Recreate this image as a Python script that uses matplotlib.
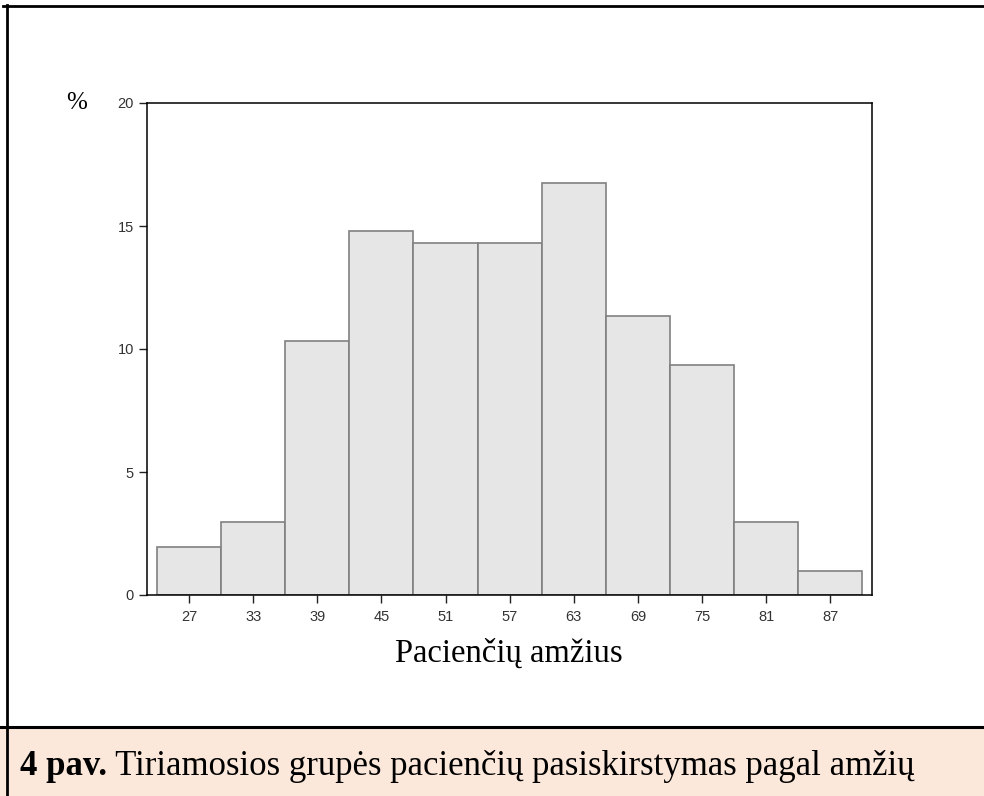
import matplotlib
matplotlib.use("Agg")
import matplotlib.pyplot as plt
from matplotlib.patches import Rectangle
from matplotlib.lines import Line2D

# Data
bin_starts = [24, 30, 36, 42, 48, 54, 60, 66, 72, 78, 84]
bin_width = 6
percent = [1.97, 2.96, 10.34, 14.78, 14.29, 14.29, 16.75, 11.33, 9.36, 2.96, 0.99]
xticks = [27, 33, 39, 45, 51, 57, 63, 69, 75, 81, 87]
yticks = [0, 5, 10, 15, 20]
xlabel = "Pacienčių amžius"
ylabel = "%"
caption_bold = "4 pav."
caption_text = " Tiriamosios grupės pacienčių pasiskirstymas pagal amžių"

W, H = 984, 796
fig = plt.figure(figsize=(W / 100, H / 100), dpi=100)
fig.patch.set_facecolor("white")

# caption band
band_top = (H - 727) / H
fig.add_artist(Rectangle((0, 0), 1, band_top, transform=fig.transFigure,
                         facecolor="#fce8da", edgecolor="none", zorder=0))
fig.add_artist(Line2D([0, 1], [band_top, band_top], transform=fig.transFigure,
                      color="black", lw=2.2))
fig.add_artist(Line2D([0.0035, 1], [1 - 6 / H, 1 - 6 / H], transform=fig.transFigure,
                      color="black", lw=2.0))
fig.add_artist(Line2D([6.5 / W, 6.5 / W], [0, 1 - 5 / H], transform=fig.transFigure,
                      color="black", lw=2.0))

ax = fig.add_axes([147 / W, 1 - 595 / H, (872 - 147) / W, (595 - 103) / H])
ax.bar(bin_starts, percent, width=bin_width, align="edge",
       facecolor="#e6e6e6", edgecolor="#808080", linewidth=1.2, zorder=2)
ax.set_xlim(23.07, 90.9)
ax.set_ylim(0, 20)
ax.set_xticks(xticks)
ax.set_yticks(yticks)
ax.set_xticklabels([str(t) for t in xticks])
ax.set_yticklabels([str(t) for t in yticks])
for s in ax.spines.values():
    s.set_color("black")
    s.set_linewidth(1.1)
ax.tick_params(direction="out", length=6, width=1, color="#222222",
               labelsize=10.5, labelcolor="#333333")
ax.tick_params(axis="x", pad=5)
ax.tick_params(axis="y", pad=3.5)
for lab in ax.get_xticklabels() + ax.get_yticklabels():
    lab.set_family("Liberation Sans")

fig.text(509 / W, 1 - 662 / H, xlabel, ha="center", va="baseline",
         fontsize=23.5, family="Liberation Serif")
fig.text(77 / W, 1 - 103 / H, ylabel, ha="center", va="center",
         fontsize=18, family="Liberation Serif")

t1 = fig.text(20 / W, 1 - 775 / H, caption_bold, ha="left", va="baseline",
              fontsize=25, family="Liberation Serif", fontweight="bold")
fig.canvas.draw()
bb = t1.get_window_extent()
fig.text(bb.x1 / W, 1 - 775 / H, caption_text, ha="left", va="baseline",
         fontsize=25, family="Liberation Serif")

fig.savefig("out.png", dpi=100)
